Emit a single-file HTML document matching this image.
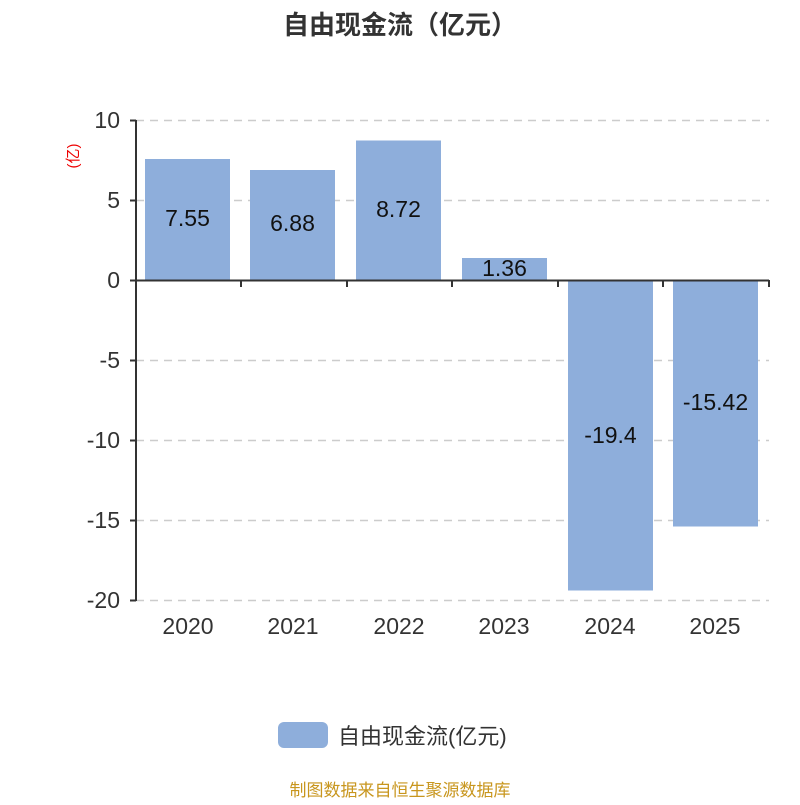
<!DOCTYPE html>
<html><head><meta charset="utf-8"><style>
html,body{margin:0;padding:0;background:#fff;}
text{font-family:"Liberation Sans","Noto Sans CJK SC",sans-serif;}
</style></head><body>
<svg width="800" height="800" viewBox="0 0 800 800" xmlns="http://www.w3.org/2000/svg">
<text x="400" y="34" text-anchor="middle" font-size="26" font-weight="bold" fill="#333">自由现金流（亿元）</text>
<g stroke="#ccc" stroke-width="1.5" stroke-dasharray="8,6">
<line x1="136" y1="120.5" x2="769" y2="120.5"/>
<line x1="136" y1="200.5" x2="769" y2="200.5"/>
<line x1="136" y1="360.5" x2="769" y2="360.5"/>
<line x1="136" y1="440.5" x2="769" y2="440.5"/>
<line x1="136" y1="520.5" x2="769" y2="520.5"/>
<line x1="136" y1="600.5" x2="769" y2="600.5"/>
</g>
<g fill="#8eaedb">
<rect x="145" y="159" width="85" height="121"/>
<rect x="250" y="170" width="85" height="110"/>
<rect x="356" y="140.5" width="85" height="139.5"/>
<rect x="462" y="258" width="85" height="22"/>
<rect x="568" y="280" width="85" height="310.5"/>
<rect x="673" y="280" width="85" height="246.5"/>
</g>
<g stroke="#333" stroke-width="2">
<line x1="136" y1="120" x2="136" y2="601"/>
<line x1="136" y1="280.5" x2="769" y2="280.5"/>
<line x1="130" y1="120.5" x2="136" y2="120.5"/>
<line x1="130" y1="200.5" x2="136" y2="200.5"/>
<line x1="130" y1="280.5" x2="136" y2="280.5"/>
<line x1="130" y1="360.5" x2="136" y2="360.5"/>
<line x1="130" y1="440.5" x2="136" y2="440.5"/>
<line x1="130" y1="520.5" x2="136" y2="520.5"/>
<line x1="130" y1="600.5" x2="136" y2="600.5"/>
<line x1="241" y1="280" x2="241" y2="287"/>
<line x1="347" y1="280" x2="347" y2="287"/>
<line x1="452" y1="280" x2="452" y2="287"/>
<line x1="558" y1="280" x2="558" y2="287"/>
<line x1="663" y1="280" x2="663" y2="287"/>
<line x1="769" y1="280" x2="769" y2="287"/>
</g>
<g font-size="23" fill="#333" text-anchor="end">
<text x="120" y="128">10</text>
<text x="120" y="208">5</text>
<text x="120" y="288">0</text>
<text x="120" y="368">-5</text>
<text x="120" y="448">-10</text>
<text x="120" y="528">-15</text>
<text x="120" y="608">-20</text>
</g>
<text transform="translate(78,156) rotate(-90)" text-anchor="middle" font-size="15" fill="#e00">(亿)</text>
<g font-size="23" fill="#111" text-anchor="middle">
<text x="187.5" y="226">7.55</text>
<text x="292.5" y="231">6.88</text>
<text x="398.5" y="217">8.72</text>
<text x="504.5" y="276">1.36</text>
<text x="610.5" y="443">-19.4</text>
<text x="715.5" y="410">-15.42</text>
</g>
<g font-size="23" fill="#333" text-anchor="middle">
<text x="188" y="634">2020</text>
<text x="293" y="634">2021</text>
<text x="399" y="634">2022</text>
<text x="504" y="634">2023</text>
<text x="610" y="634">2024</text>
<text x="715" y="634">2025</text>
</g>
<rect x="278" y="722" width="50" height="26" rx="6" fill="#8eaedb"/>
<text x="338" y="744" font-size="22" fill="#333">自由现金流(亿元)</text>
<text x="400" y="796" text-anchor="middle" font-size="17" fill="#c8961e">制图数据来自恒生聚源数据库</text>
</svg>
</body></html>
